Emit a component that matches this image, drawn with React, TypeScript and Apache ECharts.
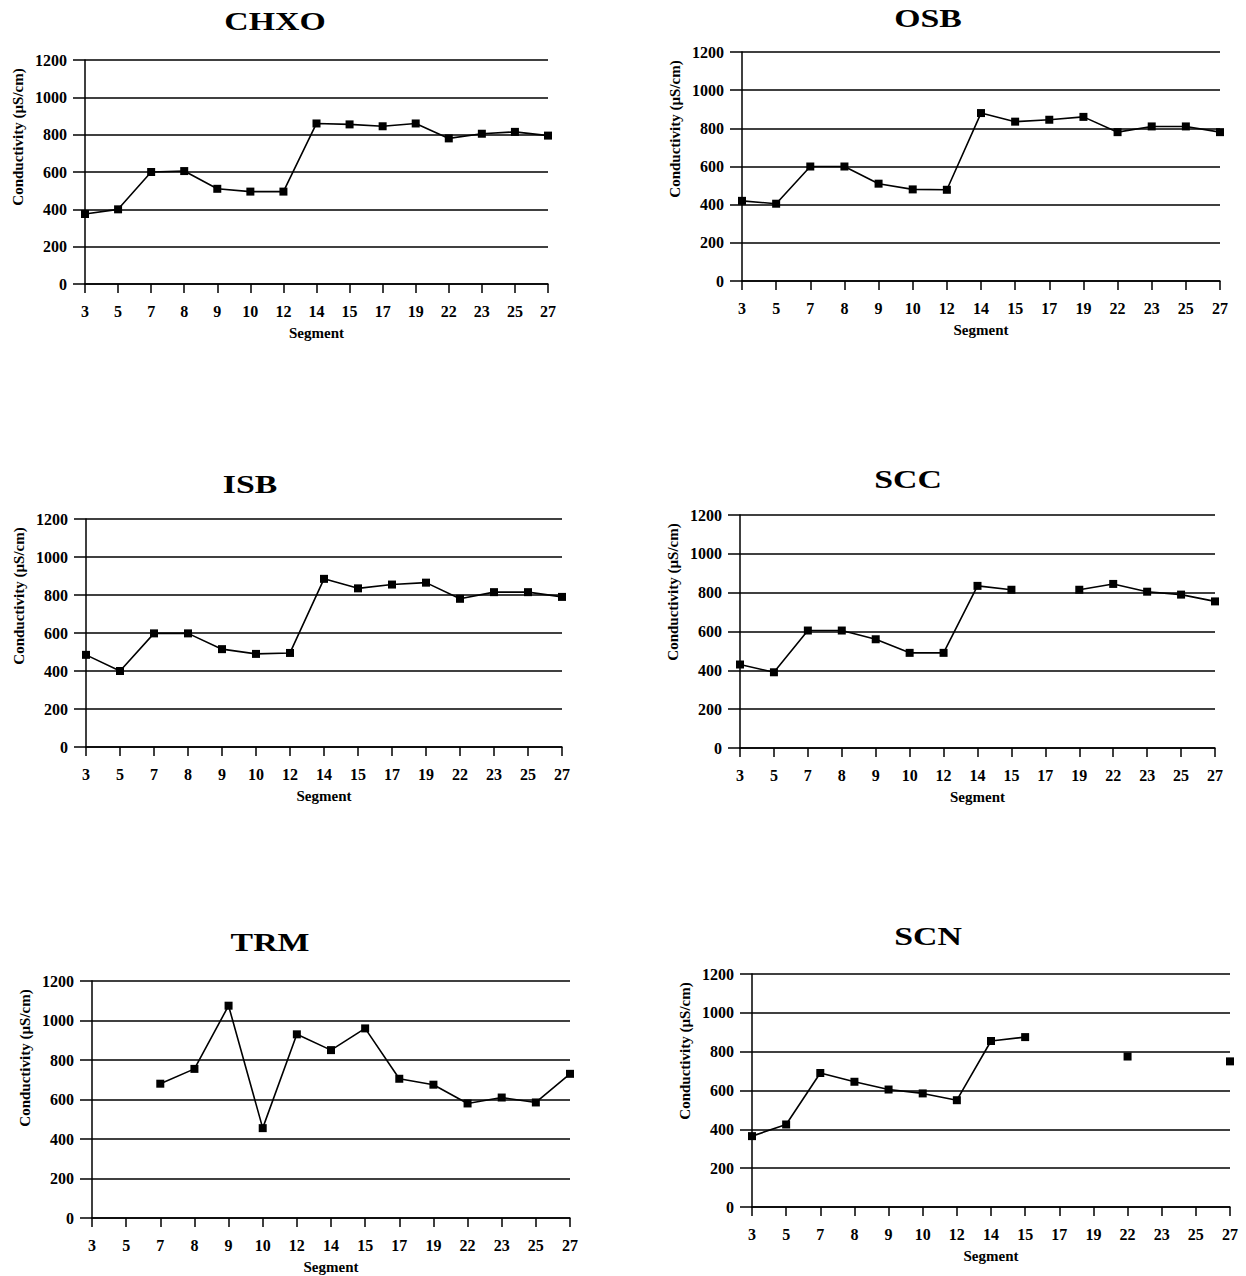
import React, { useEffect, useRef } from "react";
import * as echarts from "echarts";

const segments = ["3", "5", "7", "8", "9", "10", "12", "14", "15", "17", "19", "22", "23", "25", "27"];
const yTicks = [0, 200, 400, 600, 800, 1000, 1200];

const chxo = [375, 400, 600, 605, 510, 495, 495, 860, 855, 845, 860, 780, 805, 815, 795];
const osb = [420, 405, 600, 600, 510, 480, 478, 880, 835, 845, 860, 780, 810, 810, 780];
const isb = [485, 400, 598, 598, 515, 490, 495, 885, 835, 855, 865, 780, 815, 815, 790];
const scc = [430, 390, 605, 605, 560, 490, 490, 835, 815, null, 815, 845, 805, 790, 755];
const trm = [null, null, 680, 755, 1075, 455, 930, 850, 960, 705, 675, 580, 610, 585, 730];
const scn = [365, 425, 690, 645, 605, 585, 550, 855, 875, null, null, 775, null, null, 750];

const titles = ["CHXO", "OSB", "ISB", "SCC", "TRM", "SCN"];
const seriesData = [chxo, osb, isb, scc, trm, scn];
const yName = "Conductivity (µS/cm)";
const xName = "Segment";

// layout: [left, top, width, height, titleX, titleY]
const layout = [
  [85, 60, 463, 224, 275, 21],
  [742, 52, 478, 229, 928, 18],
  [86, 519, 476, 228, 250, 484],
  [740, 515, 475, 233, 908, 479],
  [92, 981, 478, 237, 270, 942],
  [752, 974, 478, 233, 928, 936],
];

const FONT = "'Liberation Serif', 'DejaVu Serif', serif";

export default function App() {
  const ref = useRef<HTMLDivElement>(null);
  useEffect(() => {
    if (!ref.current) return;
    const chart = echarts.init(ref.current, undefined, { renderer: "svg" });
    const grid: any[] = [];
    const xAxis: any[] = [];
    const yAxis: any[] = [];
    const series: any[] = [];
    const graphic: any[] = [];
    layout.forEach((l, i) => {
      grid.push({ left: l[0], top: l[1], width: l[2], height: l[3], containLabel: false });
      xAxis.push({
        type: "category",
        gridIndex: i,
        data: segments,
        boundaryGap: false,
        name: xName,
        nameLocation: "middle",
        nameGap: 41,
        nameTextStyle: { fontFamily: FONT, fontWeight: "bold", fontSize: 15, color: "#000" },
        axisLine: { show: true, lineStyle: { color: "#000", width: 1.5 } },
        axisTick: { show: true, alignWithLabel: true, length: 9, lineStyle: { color: "#000", width: 1.5 } },
        axisLabel: { fontFamily: FONT, fontWeight: "bold", fontSize: 16, color: "#000", margin: 19, interval: 0 },
        splitLine: { show: false },
      });
      yAxis.push({
        type: "value",
        gridIndex: i,
        min: yTicks[0],
        max: yTicks[yTicks.length - 1],
        interval: 200,
        axisLine: { show: true, lineStyle: { color: "#000", width: 1.5 } },
        axisTick: { show: true, length: 12, lineStyle: { color: "#000", width: 1.5 } },
        axisLabel: {
          fontFamily: FONT,
          fontWeight: "bold",
          fontSize: 16,
          color: "#000",
          margin: 18,
          formatter: (v: number) => String(v),
        },
        splitLine: { show: true, lineStyle: { color: "#000", width: 1.5 } },
      });
      series.push({
        type: "line",
        xAxisIndex: i,
        yAxisIndex: i,
        data: seriesData[i],
        connectNulls: false,
        symbol: "rect",
        symbolSize: 8,
        showSymbol: true,
        itemStyle: { color: "#000" },
        lineStyle: { color: "#000", width: 1.6 },
      });
      graphic.push({
        type: "text",
        x: l[4],
        y: l[5],
        scaleX: 1.3,
        style: {
          text: titles[i],
          fontFamily: FONT,
          fontWeight: "bold",
          fontSize: 26,
          fill: "#000",
          textAlign: "center",
          textVerticalAlign: "middle",
        },
      });
      graphic.push({
        type: "text",
        x: l[0] - 67,
        y: l[1] + 77,
        rotation: Math.PI / 2,
        style: {
          text: yName,
          fontFamily: FONT,
          fontWeight: "bold",
          fontSize: 15,
          fill: "#000",
          textAlign: "center",
          textVerticalAlign: "middle",
        },
      });
    });
    chart.setOption({
      animation: false,
      backgroundColor: "#fff",
      grid,
      xAxis,
      yAxis,
      series,
      graphic,
    });
    return () => chart.dispose();
  }, []);
  return (
    <div
      ref={ref}
      style={{ position: "absolute", left: 0, top: 0, width: 1246, height: 1276, background: "#fff" }}
    />
  );
}
